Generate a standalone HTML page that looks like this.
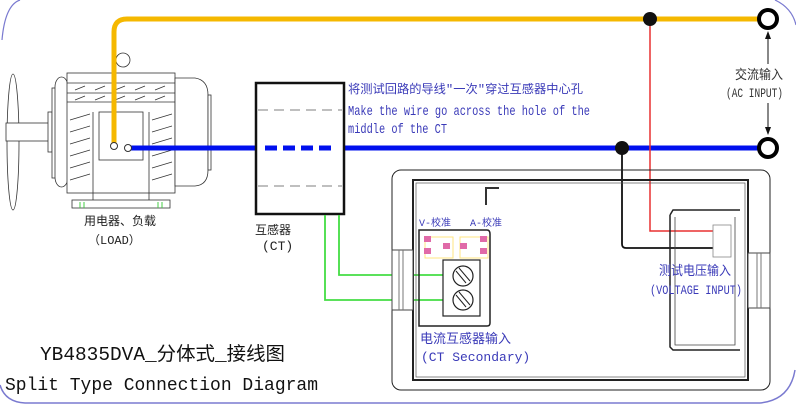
<!DOCTYPE html>
<html><head><meta charset="utf-8"><style>
html,body{margin:0;padding:0;background:#fff;}
svg{display:block;}
text{font-family:"Liberation Mono","Noto Sans CJK SC",monospace;}
</style></head><body>
<svg width="796" height="405" viewBox="0 0 796 405" xmlns="http://www.w3.org/2000/svg">
<path d="M2,40 Q5,5 20,0" fill="none" stroke="#7a7ad0" stroke-width="1.2"/>
<path d="M0,385 Q5,402 25,403 L760,403 Q790,400 795,370" fill="none" stroke="#7a7ad0" stroke-width="1.5"/>
<path d="M775,0 Q792,8 796,25" fill="none" stroke="#7a7ad0" stroke-width="1.2"/>

<g stroke="#333" stroke-width="0.8" fill="#fff">
<ellipse cx="13" cy="142" rx="6" ry="68"/>
<rect x="6" y="123" width="44" height="18"/>
<rect x="48" y="112" width="4" height="40"/>
<rect x="52" y="88" width="8" height="90"/>
<rect x="55" y="77" width="13" height="110" rx="10"/>
<rect x="67" y="73" width="108" height="120"/>
<path d="M175,78 L195,78 Q208,80 208,95 L208,170 Q208,185 195,186 L175,186 Z"/>
<rect x="208" y="95" width="3" height="75"/>
<circle cx="123" cy="60" r="7"/>
<rect x="99" y="112" width="44" height="48"/>
<rect x="72" y="200" width="98" height="8"/>
<path d="M93,112 L93,200 M149,112 L149,200"/>
<path d="M67,83 L175,83 M67,93 L175,93 M67,102 L175,102"/>
</g>
<g stroke="#333" stroke-width="0.7">
<path d="M75,90 L85,86 M95,90 L105,86 M115,90 L125,86 M135,90 L145,86 M155,90 L165,86"/>
<path d="M75,100 L85,96 M95,100 L105,96 M115,100 L125,96 M135,100 L145,96 M155,100 L165,96"/>
<path d="M70,120 L90,114 M70,132 L90,126 M70,144 L90,138 M70,156 L90,150 M70,168 L90,162 M70,180 L90,174"/>
<path d="M152,120 L172,114 M152,132 L172,126 M152,144 L172,138 M152,156 L172,150 M152,168 L172,162 M152,180 L172,174"/>
</g>
<path d="M80,202 L80,208 M84,202 L84,208 M158,202 L158,208 M162,202 L162,208" stroke="#4c4" stroke-width="1"/>

<path d="M114,146 L114,32 Q114,19 127,19 L760,19" fill="none" stroke="#f5b800" stroke-width="5"/>
<circle cx="114" cy="146" r="3.5" fill="#fff" stroke="#333" stroke-width="1"/>
<path d="M130,148 L256,148 M344,148 L760,148" stroke="#0010ee" stroke-width="5"/>
<path d="M265,148 L336,148" stroke="#0010ee" stroke-width="5" stroke-dasharray="12,6"/>
<circle cx="128" cy="148" r="3.5" fill="#fff" stroke="#333" stroke-width="1"/>

<path d="M650,19 L650,231 L719,231" fill="none" stroke="#e83030" stroke-width="1.5"/>
<path d="M622,148 L622,244 Q622,248 626,248 L719,248" fill="none" stroke="#111" stroke-width="1.8"/>
<circle cx="650" cy="19" r="7" fill="#111"/>
<circle cx="622" cy="148" r="7" fill="#111"/>

<circle cx="768" cy="19" r="9" fill="#fff" stroke="#000" stroke-width="4"/>
<circle cx="768" cy="148" r="9" fill="#fff" stroke="#000" stroke-width="4"/>
<path d="M768,33 L768,64 M768,103 L768,134" stroke="#111" stroke-width="1"/>
<path d="M765,39 L768,31 L771,39 Z M765,127 L768,135 L771,127 Z" fill="#111"/>
<text x="735" y="79" font-size="13" fill="#333" textLength="48" lengthAdjust="spacingAndGlyphs">交流输入</text>
<text x="726" y="97" font-size="13" fill="#333" textLength="57" lengthAdjust="spacingAndGlyphs">(AC INPUT)</text>

<rect x="256" y="83" width="88" height="131" fill="none" stroke="#111" stroke-width="2.5"/>
<path d="M258,110 L342,110 M258,186 L342,186" stroke="#555" stroke-width="0.8" stroke-dasharray="10,6"/>
<path d="M325,215 L325,300 L445,300 M339,215 L339,275 L445,275" fill="none" stroke="#44dd44" stroke-width="1.8"/>
<text x="255" y="234" font-size="12" fill="#222">互感器</text>
<text x="262" y="250" font-size="13" fill="#222" font-family="Liberation Sans">(CT)</text>
<text x="84" y="225" font-size="12" fill="#222">用电器、负载</text>
<text x="88" y="244" font-size="12" fill="#222">（LOAD）</text>

<text x="348" y="93" font-size="12" fill="#3a3ab8" textLength="235" lengthAdjust="spacingAndGlyphs">将测试回路的导线"一次"穿过互感器中心孔</text>
<text x="348" y="115" font-size="14" fill="#3a3ab8" textLength="242" lengthAdjust="spacingAndGlyphs">Make the wire go across the hole of the</text>
<text x="348" y="133" font-size="14" fill="#3a3ab8" textLength="99" lengthAdjust="spacingAndGlyphs">middle of the CT</text>

<rect x="392" y="170" width="378" height="220" rx="9" fill="none" stroke="#222" stroke-width="1"/>
<rect x="413" y="180" width="335" height="200" fill="none" stroke="#222" stroke-width="2"/>
<rect x="416" y="183" width="329" height="194" fill="none" stroke="#555" stroke-width="0.7"/>
<path d="M486,205 L486,188 L499,188" fill="none" stroke="#333" stroke-width="2"/>
<path d="M419,230 L487,230 Q490,230 490,234 L490,323 Q490,326 487,326 L419,326 Z" fill="none" stroke="#222" stroke-width="1.5"/>
<rect x="392" y="250" width="21" height="60" fill="#fff" stroke="#444" stroke-width="1"/>
<path d="M399,250 L399,310 M403,250 L403,310" stroke="#777" stroke-width="1"/>
<rect x="748" y="253" width="22" height="55" fill="#fff" stroke="#444" stroke-width="1"/>
<path d="M757,253 L757,308 M761,253 L761,308" stroke="#777" stroke-width="1"/>
<rect x="425" y="237" width="28" height="21" fill="none" stroke="#ffe680" stroke-width="1"/>
<rect x="460" y="237" width="28" height="21" fill="none" stroke="#ffe680" stroke-width="1"/>
<g fill="#e06aa8"><rect x="424" y="236" width="7" height="6"/><rect x="424" y="248" width="7" height="6"/><rect x="443" y="243" width="7" height="6"/><rect x="460" y="243" width="7" height="6"/><rect x="480" y="236" width="7" height="6"/><rect x="480" y="248" width="7" height="6"/></g>
<text x="419" y="226" font-size="10" fill="#3a3ab8">V-校准</text>
<text x="470" y="226" font-size="10" fill="#3a3ab8">A-校准</text>
<rect x="443" y="260" width="37" height="56" fill="#fff" stroke="#222" stroke-width="1.2"/>
<circle cx="463" cy="276" r="10" fill="#fff" stroke="#222" stroke-width="1.2"/>
<circle cx="463" cy="300" r="10" fill="#fff" stroke="#222" stroke-width="1.2"/>
<path d="M456,271 L466,283 M459,268 L470,281 M456,295 L466,307 M459,292 L470,305" stroke="#222" stroke-width="1"/>
<text x="420" y="343" font-size="13" fill="#3a3ab8">电流互感器输入</text>
<text x="421" y="361" font-size="13" fill="#3a3ab8" font-family="Liberation Sans">(CT Secondary)</text>
<path d="M670,215 L673,210 L740,210 M670,215 L670,347 L673,350 L740,350" fill="none" stroke="#222" stroke-width="1.5"/>
<path d="M675,217 L675,345 L735,345 L735,217" fill="none" stroke="#444" stroke-width="0.8"/>
<rect x="713" y="225" width="18" height="32" fill="#fff" stroke="#888" stroke-width="0.8"/>
<text x="659" y="275" font-size="13" fill="#3a3ab8" textLength="72" lengthAdjust="spacingAndGlyphs">测试电压输入</text>
<text x="650" y="294" font-size="13" fill="#3a3ab8" textLength="92" lengthAdjust="spacingAndGlyphs">(VOLTAGE INPUT)</text>

<text x="40" y="360" font-size="19" fill="#111" textLength="245" lengthAdjust="spacingAndGlyphs" font-family="Liberation Mono, Noto Serif CJK SC, serif">YB4835DVA_分体式_接线图</text>
<text x="5" y="390" font-size="18" fill="#111" textLength="313" lengthAdjust="spacingAndGlyphs">Split Type Connection Diagram</text>
</svg>
</body></html>
